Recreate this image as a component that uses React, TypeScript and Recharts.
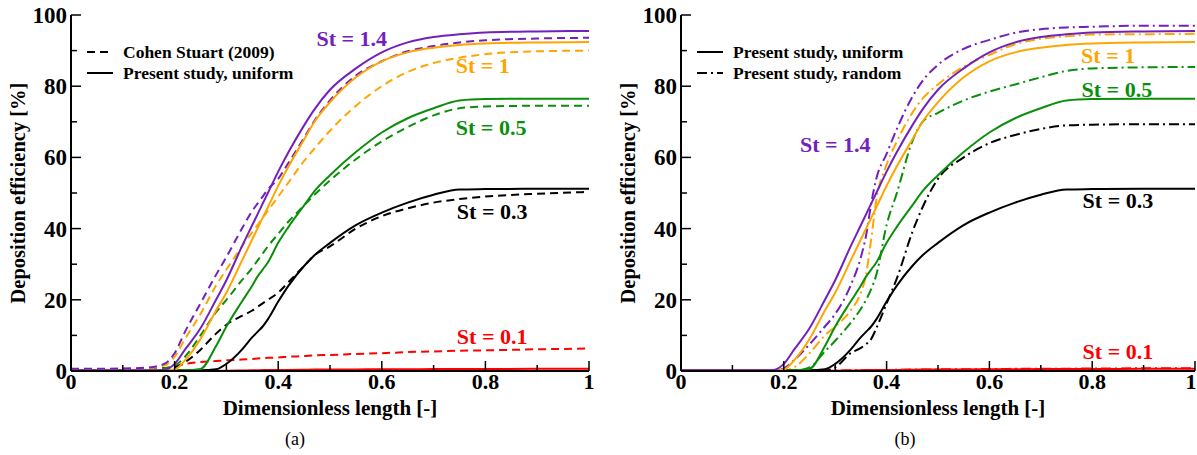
import { LineChart, Line, XAxis, YAxis, ReferenceDot, Legend } from "recharts";

// dimensionless length grid shared by all curves
const xs = [0, 0.1, 0.15, 0.18, 0.2, 0.22, 0.25, 0.28, 0.3, 0.33, 0.35, 0.36, 0.37, 0.38, 0.4, 0.42, 0.45, 0.47, 0.5, 0.55, 0.6, 0.65, 0.7, 0.75, 0.8, 0.9, 1];

// present study, uniform
const uniform14 = [0.2, 0.2, 0.2, 0.3, 2, 6, 12, 20, 25.5, 35, 41, 44, 47, 50, 56, 61.5, 69, 73.5, 79, 85, 89.5, 92.3, 93.8, 94.6, 95.1, 95.4, 95.5];
const uniform1 = [0.2, 0.2, 0.2, 0.2, 0.4, 3, 9, 17, 22, 31, 37, 40, 43, 46, 52, 57.5, 65, 70, 75.5, 82.5, 87, 89.5, 90.8, 91.6, 92, 92.3, 92.4];
const uniform05 = [0.2, 0.2, 0.2, 0.2, 0.2, 0.2, 0.6, 7, 12.5, 19.5, 24, 26.5, 28.5, 30.5, 36, 40.5, 46.5, 50.5, 55, 61.5, 67, 71, 73.8, 76, 76.4, 76.5, 76.5];
const uniform03 = [0.2, 0.2, 0.2, 0.2, 0.2, 0.2, 0.2, 0.5, 2, 6, 9.5, 11, 12.5, 14.5, 19.5, 24, 29.5, 32.5, 36, 41, 44.5, 47.3, 49.5, 51, 51.1, 51.2, 51.2];
const uniform01 = [0.1, 0.1, 0.1, 0.1, 0.1, 0.1, 0.1, 0.1, 0.1, 0.15, 0.2, 0.2, 0.25, 0.25, 0.3, 0.3, 0.35, 0.4, 0.4, 0.45, 0.5, 0.5, 0.55, 0.55, 0.55, 0.6, 0.6];

// Cohen Stuart (2009)
const cohen14 = [0.6, 0.7, 1, 2, 5, 11, 19, 27, 32, 40, 45, 47, 49, 51, 54, 58.5, 65.5, 70.3, 76, 83, 87, 89.8, 91.3, 92.3, 92.9, 93.4, 93.6];
const cohen1 = [0.5, 0.6, 0.8, 1.5, 4, 9, 16, 24, 28.5, 35, 39, 41, 43, 45, 49, 53, 59, 62.5, 67.5, 74.5, 80, 84, 86.5, 88, 89, 89.8, 90];
const cohen05 = [0.5, 0.5, 0.6, 0.8, 1.5, 4, 10, 16.5, 20, 25.5, 29, 31, 33, 35, 38.5, 42, 46.5, 49.5, 53.5, 59.5, 64.5, 68.5, 71.8, 73.8, 74.3, 74.5, 74.5];
const cohen03 = [0.5, 0.5, 0.6, 0.7, 1, 2.5, 6, 10.5, 13, 15.5, 17, 18, 19, 20, 22, 25, 29.5, 32.5, 35, 40, 43.5, 45.7, 47.3, 48.3, 49, 49.8, 50.3];
const cohen01 = [0.5, 0.5, 0.6, 0.8, 1.2, 2, 2.5, 2.8, 3, 3.2, 3.4, 3.5, 3.6, 3.7, 3.8, 4, 4.2, 4.4, 4.5, 4.8, 5, 5.3, 5.5, 5.7, 5.8, 6.1, 6.3];

// present study, random
const random14 = [0.1, 0.1, 0.1, 0.1, 0.7, 3, 7.5, 12.5, 16, 24, 32, 38, 47, 54, 61, 68, 77, 81.5, 86, 90.5, 93, 95, 96, 96.5, 96.7, 97, 97];
const random1 = [0.1, 0.1, 0.1, 0.1, 0.2, 1, 5, 10, 12.5, 17, 22, 27, 37, 48, 58, 64.5, 72.5, 76.5, 80.5, 85.5, 88.8, 91.8, 93.3, 94, 94.5, 94.6, 94.7];
const random05 = [0.1, 0.1, 0.1, 0.1, 0.1, 0.1, 1, 5.5, 8.5, 13.5, 17.5, 20, 23, 27, 41, 50, 64.5, 70, 72.5, 76, 78.5, 80.5, 82.5, 84.3, 85, 85.3, 85.4];
const random03 = [0.1, 0.1, 0.1, 0.1, 0.1, 0.1, 0.1, 0.1, 1, 5, 6.5, 7.5, 9, 12, 19, 26, 39, 46, 54, 60, 64, 66.3, 68, 69, 69.2, 69.3, 69.3];
const random01 = [0.1, 0.1, 0.1, 0.1, 0.1, 0.1, 0.1, 0.1, 0.15, 0.2, 0.2, 0.25, 0.25, 0.3, 0.3, 0.35, 0.4, 0.4, 0.45, 0.5, 0.55, 0.6, 0.6, 0.65, 0.7, 0.75, 0.8];

const xTicks = [0, 0.1, 0.2, 0.3, 0.4, 0.5, 0.6, 0.7, 0.8, 0.9, 1];
const yTicks = [0, 10, 20, 30, 40, 50, 60, 70, 80, 90, 100];

const stNames = ["St = 1.4", "St = 1", "St = 0.5", "St = 0.3", "St = 0.1"];
// label anchor points (data coords) for panel (a) and (b)
const labelXa = [0.542, 0.795, 0.811, 0.813, 0.813];
const labelYa = [93.5, 86, 68.5, 45, 9.9];
const labelXb = [0.3, 0.831, 0.848, 0.85, 0.85];
const labelYb = [63.8, 88.7, 79.3, 47.9, 5.7];

const PURPLE = "#7221bc";
const ORANGE = "#ffa500";
const GREEN = "#0a8f0a";
const BLACK = "#000000";
const RED = "#ff0000";
const stColors = [PURPLE, ORANGE, GREEN, BLACK, RED];

const DASH = "8 5";
const DASHDOT = "10 4 2 4";
const FONT = "'Liberation Serif', 'Times New Roman', serif";

const rows = xs.map((x, i) => ({
  x,
  u14: uniform14[i],
  u1: uniform1[i],
  u05: uniform05[i],
  u03: uniform03[i],
  u01: uniform01[i],
  c14: cohen14[i],
  c1: cohen1[i],
  c05: cohen05[i],
  c03: cohen03[i],
  c01: cohen01[i],
  r14: random14[i],
  r1: random1[i],
  r05: random05[i],
  r03: random03[i],
  r01: random01[i],
}));

const uniformKeys = ["u14", "u1", "u05", "u03", "u01"];
const cohenKeys = ["c14", "c1", "c05", "c03", "c01"];
const randomKeys = ["r14", "r1", "r05", "r03", "r01"];

const isMajorX = (v: number) => Math.round(v * 10) % 2 === 0;
const isMajorY = (v: number) => Math.round(v) % 20 === 0;

// lastShift nudges the "1" label left when the panel ends at the page edge
const makeBottomTick = (lastShift: number) =>
  function BottomTick(props: any) {
    const { x, y, payload } = props;
    const major = isMajorX(payload.value);
    const tx = payload.value === 1 ? x - lastShift : x;
    return (
      <g>
        <line x1={x} y1={y} x2={x} y2={y - (major ? 10 : 6)} stroke="#000" strokeWidth={1.5} />
        {major && (
          <text x={tx} y={y + 18} textAnchor="middle" fontSize={22} fontWeight="bold" fill="#000">
            {String(payload.value)}
          </text>
        )}
      </g>
    );
  };

function TopTick(props: any) {
  const { x, y, payload } = props;
  const major = isMajorX(payload.value);
  return <line x1={x} y1={y} x2={x} y2={y + (major ? 10 : 6)} stroke="#000" strokeWidth={1.5} />;
}

function LeftTick(props: any) {
  const { x, y, payload } = props;
  const major = isMajorY(payload.value);
  return (
    <g>
      <line x1={x} y1={y} x2={x + (major ? 10 : 6)} y2={y} stroke="#000" strokeWidth={1.5} />
      {major && (
        <text x={x - 4} y={y + 8} textAnchor="end" fontSize={23} fontWeight="bold" fill="#000">
          {String(payload.value)}
        </text>
      )}
    </g>
  );
}

function RightTick(props: any) {
  const { x, y, payload } = props;
  const major = isMajorY(payload.value);
  return <line x1={x} y1={y} x2={x - (major ? 10 : 6)} y2={y} stroke="#000" strokeWidth={1.5} />;
}

type LegendItem = { name: string; dash?: string };

function LegendBox({ items }: { items: LegendItem[] }) {
  return (
    <svg width={280} height={46}>
      {items.map((it, i) => (
        <g key={it.name}>
          <line x1={0} y1={10 + i * 21} x2={26} y2={10 + i * 21} stroke="#000" strokeWidth={2} strokeDasharray={it.dash} />
          <text x={36} y={16 + i * 21} fontSize={17.5} fontWeight="bold" fill="#000" fontFamily={FONT}>
            {it.name}
          </text>
        </g>
      ))}
    </svg>
  );
}

const axisLine = { stroke: "#000", strokeWidth: 2 };

function Panel({
  width,
  rightGap,
  lastShift,
  dashedKeys,
  dash,
  labelX,
  labelY,
  legend,
}: {
  width: number;
  rightGap: number;
  lastShift: number;
  dashedKeys: string[];
  dash: string;
  labelX: number[];
  labelY: number[];
  legend: LegendItem[];
}) {
  const order = [4, 3, 2, 1, 0];
  return (
    <LineChart width={width} height={455} data={rows} margin={{ top: 15, right: rightGap, bottom: 0, left: 0 }}>
      <XAxis
        dataKey="x"
        type="number"
        domain={[0, 1]}
        ticks={xTicks}
        interval={0}
        height={84}
        tickSize={0}
        tickMargin={0}
        tickLine={false}
        axisLine={axisLine}
        tick={makeBottomTick(lastShift)}
        label={{ value: "Dimensionless length [-]", position: "insideBottom", offset: 40, fontSize: 21, fontWeight: "bold", fill: "#000" }}
      />
      <XAxis
        xAxisId="top"
        orientation="top"
        dataKey="x"
        type="number"
        domain={[0, 1]}
        ticks={xTicks}
        interval={0}
        height={0}
        tickSize={0}
        tickMargin={0}
        tickLine={false}
        axisLine={axisLine}
        tick={TopTick}
      />
      <YAxis
        type="number"
        domain={[0, 100]}
        ticks={yTicks}
        interval={0}
        width={71}
        tickSize={0}
        tickMargin={0}
        tickLine={false}
        axisLine={axisLine}
        tick={LeftTick}
        label={{
          value: "Deposition efficiency [%]",
          angle: -90,
          position: "insideLeft",
          offset: 18,
          fontSize: 20.5,
          fontWeight: "bold",
          fill: "#000",
          style: { textAnchor: "middle" },
        }}
      />
      <YAxis
        yAxisId="right"
        orientation="right"
        type="number"
        domain={[0, 100]}
        ticks={yTicks}
        interval={0}
        width={0}
        tickSize={0}
        tickMargin={0}
        tickLine={false}
        axisLine={axisLine}
        tick={RightTick}
      />
      {order.map((i) => (
        <Line
          key={dashedKeys[i]}
          type="monotone"
          dataKey={dashedKeys[i]}
          stroke={stColors[i]}
          strokeWidth={2}
          strokeDasharray={dash}
          dot={false}
          isAnimationActive={false}
        />
      ))}
      {order.map((i) => (
        <Line
          key={uniformKeys[i]}
          type="monotone"
          dataKey={uniformKeys[i]}
          stroke={stColors[i]}
          strokeWidth={2}
          dot={false}
          isAnimationActive={false}
        />
      ))}
      {stNames.map((name, i) => (
        <ReferenceDot
          key={name}
          x={labelX[i]}
          y={labelY[i]}
          r={0}
          fill="none"
          stroke="none"
          label={{ value: name, position: "center", fill: stColors[i], fontSize: 22, fontWeight: "bold" }}
        />
      ))}
      <Legend
        layout="horizontal"
        verticalAlign="middle"
        align="center"
        wrapperStyle={{ left: 87, top: 42, width: 280, height: 46 }}
        content={() => <LegendBox items={legend} />}
      />
    </LineChart>
  );
}

export default function App() {
  return (
    <div style={{ position: "absolute", left: 0, top: 0, width: 1197, height: 455, background: "#fff", fontFamily: FONT }}>
      <div style={{ position: "absolute", left: 0, top: 0 }}>
        <Panel
          width={600}
          rightGap={11}
          lastShift={0}
          dashedKeys={cohenKeys}
          dash={DASH}
          labelX={labelXa}
          labelY={labelYa}
          legend={[{ name: "Cohen Stuart (2009)", dash: DASH }, { name: "Present study, uniform" }]}
        />
      </div>
      <div style={{ position: "absolute", left: 610, top: 0 }}>
        <Panel
          width={587}
          rightGap={2}
          lastShift={4}
          dashedKeys={randomKeys}
          dash={DASHDOT}
          labelX={labelXb}
          labelY={labelYb}
          legend={[{ name: "Present study, uniform" }, { name: "Present study, random", dash: DASHDOT }]}
        />
      </div>
      <div style={{ position: "absolute", left: 275, top: 428, width: 40, textAlign: "center", fontSize: 18, lineHeight: "22px" }}>
        (a)
      </div>
      <div style={{ position: "absolute", left: 885, top: 428, width: 40, textAlign: "center", fontSize: 18, lineHeight: "22px" }}>
        (b)
      </div>
    </div>
  );
}
